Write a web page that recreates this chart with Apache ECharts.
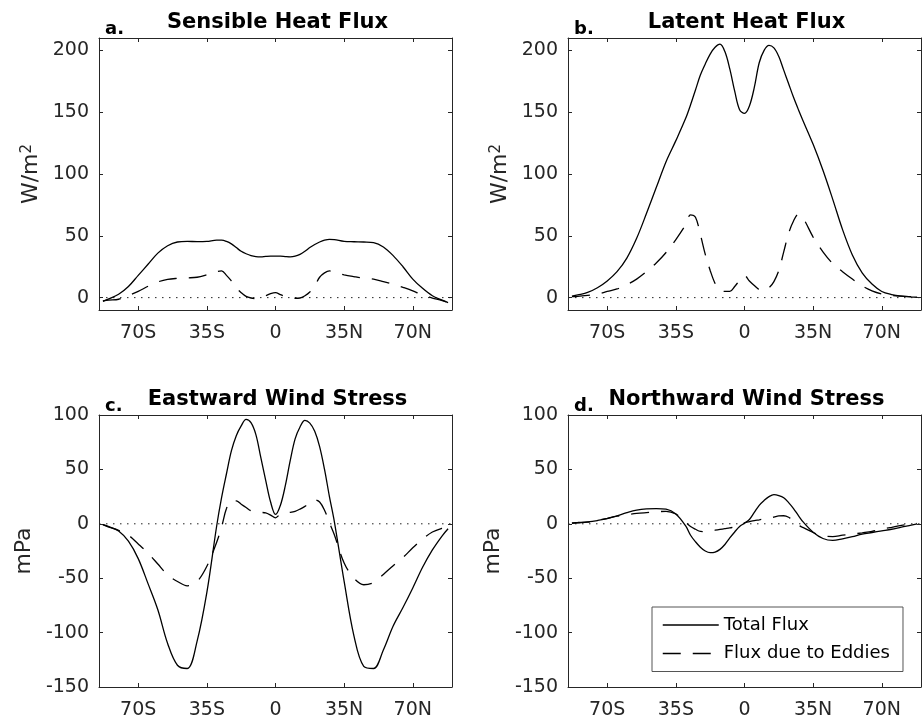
<!DOCTYPE html>
<html><head><meta charset="utf-8">
<script src="https://cdn.jsdelivr.net/npm/echarts@6/dist/echarts.min.js"></script>
<style>html,body{margin:0;padding:0;background:#fff}#c{width:922px;height:723px}</style>
</head><body><div id="c"></div>
<script>
// latitude grid (degrees, negative = south)
const lat = [-88,-85,-80,-75,-70,-65,-60,-55,-50,-45,-40,-35,-30,-27.5,-25,-22.5,-20,-17.5,-15,-12.5,-10,-7.5,-5,-2.5,0,2.5,5,7.5,10,12.5,15,17.5,20,22.5,25,27.5,30,35,40,45,50,55,60,65,70,75,80,85,88];

// a. Sensible heat flux (W/m2)
const sensTotal = [-3,-1,2.7,9,18,27,36,42,45,45.5,45.3,45.5,46.5,46.5,45.5,43.5,40.5,37.5,35.5,34,33.2,33,33.3,33.5,33.5,33.5,33.2,33,33.5,35,37.5,40.5,43,45,46.5,47.2,47,45.5,45.2,45,44.5,41,34,25,15,7.5,1.5,-2,-4];
const sensEddy  = [-2.7,-2,-1.3,1.7,5,9.2,12.7,14.8,15.6,16,16.5,18.5,21,21.6,18,13.5,8,4,1,-0.3,-0.8,0,1.5,3.2,4,2.5,0.8,0,-0.5,-0.3,1.5,4.5,9.5,16.5,20,21.6,20.5,18.5,17,15.7,15,13,10.8,8.3,5.5,2,-0.3,-2.5,-4];

// b. Latent heat flux (W/m2)
const latTotal = [1.2,2.2,4.2,8,13.5,21,32,48,68,89,110,127,145,156,168,180,189,197,202.5,205,199,185,167,152,149,155,170,190,200,204,202,195,184,173,162,152,142.5,124,103,79.5,55,34.5,20,11,5,2.5,1.2,0.6,0.3];
const latEddy  = [0.8,1,1.8,2.8,5,7,10.5,15,21,28,36.5,47,59,67,65,51,35,22,11.5,6,5,5,9,14,17.8,13.5,9.8,6.5,5.7,8,13,22,37,52,62,67.5,64,49,37,27.5,21,15,9.5,5.5,3,1.8,1.2,0.8,0.6];

// c. Eastward wind stress (mPa)
const eastTotal = [-0.7,-2.5,-6.7,-16,-32,-55,-79,-110,-130,-133,-108,-63,-2,24,46,67,81,90,96,93,82,61,40,20,8.6,17,35,58,78,89,95,92.5,85,71,50,25,2,-53,-103,-131,-133,-116,-94,-77,-59,-40,-24,-11,-4.5];
const eastEddy  = [-0.7,-3,-6,-10.5,-18.5,-27,-37,-47,-53,-57,-53,-39,-17,-3,14,21,21,18,15,12,11,10.5,10,8,5.5,9,10,10.5,11.5,13.5,16,19,22,20,12.5,1,-10,-36,-50,-56,-54,-46.5,-38.5,-31,-22,-14,-7.5,-4,-3];

// d. Northward wind stress (mPa)
const northTotal = [0.9,1.2,1.8,3,4.7,7.4,10.2,12.5,13.7,14,13.5,9,-2,-10.5,-16.5,-21.5,-25,-26.5,-26,-23.5,-19,-13,-7.5,-2.5,0.5,4,10.5,17,21.5,25,26.8,26,24,19.5,14,7.5,1.5,-7.7,-13.5,-15.3,-13.8,-11.8,-9.5,-8,-6.5,-5,-3,-1.2,0];
const northEddy  = [0.3,0.8,1.5,3.2,5,7,8.3,9.5,10.3,11,11.5,9,1.5,-2.5,-5,-7,-7.2,-6.6,-5.9,-5.2,-4.5,-3.8,-2.5,-0.8,0.9,2,3,3.7,4.5,5.3,6.2,7.2,7.4,6,2.5,-1.3,-3.5,-8,-11,-11.7,-10.5,-9.5,-8.3,-7,-5,-3.2,-1.4,-0.5,0.3];

const xTickVals = [-70,-35,0,35,70];
const xTickLabels = ['70S','35S','0','35N','70N'];
const heatTicks = [0,50,100,150,200];
const stressTicks = [-150,-100,-50,0,50,100];
const panelTitles = ['Sensible Heat Flux','Latent Heat Flux','Eastward Wind Stress','Northward Wind Stress'];
const panelLetters = ['a.','b.','c.','d.'];
const seriesNames = ['Total Flux','Flux due to Eddies'];

const FONT = '"DejaVu Sans", sans-serif';
const AX = '#262626';
const panels = [
  {g:{left:99,top:38,width:353,height:272}, ymin:-10, ymax:210, yt:heatTicks, name:'{a|W/m}{b|2}', gap:56, tot:sensTotal, edd:sensEddy},
  {g:{left:568,top:38,width:353,height:272}, ymin:-10, ymax:210, yt:heatTicks, name:'{a|W/m}{b|2}', gap:56, tot:latTotal, edd:latEddy},
  {g:{left:99,top:415,width:353,height:272}, ymin:-150, ymax:100, yt:stressTicks, name:'{a|mPa}', gap:64, tot:eastTotal, edd:eastEddy},
  {g:{left:568,top:415,width:353,height:272}, ymin:-150, ymax:100, yt:stressTicks, name:'{a|mPa}', gap:64, tot:northTotal, edd:northEddy}
];

const grid=[], xAxis=[], yAxis=[], series=[], graphic=[];
panels.forEach((p,i)=>{
  grid.push(Object.assign({containLabel:false}, p.g));
  const base = {type:'value', gridIndex:i, min:-90, max:90,
    axisLine:{show:true,onZero:false,lineStyle:{color:AX,width:1}},
    axisTick:{show:true,inside:true,length:4,customValues:xTickVals,lineStyle:{color:AX}},
    splitLine:{show:false}};
  xAxis.push(Object.assign({}, base, {position:'bottom',
    axisLabel:{show:true,margin:14,customValues:xTickVals,color:AX,fontFamily:FONT,fontSize:19,
      formatter:(v)=>xTickLabels[xTickVals.indexOf(v)]}}));
  xAxis.push(Object.assign({}, base, {position:'top', axisLabel:{show:false}}));
  const ybase = {type:'value', gridIndex:i, min:p.ymin, max:p.ymax,
    axisLine:{show:true,onZero:false,lineStyle:{color:AX,width:1}},
    axisTick:{show:true,inside:true,length:4,customValues:p.yt,lineStyle:{color:AX}},
    splitLine:{show:false}};
  yAxis.push(Object.assign({}, ybase, {position:'left',
    axisLabel:{show:true,margin:10,customValues:p.yt,color:AX,fontFamily:FONT,fontSize:19},
    name:p.name, nameLocation:'middle', nameGap:p.gap,
    nameTextStyle:{color:AX, rich:{a:{fontSize:22,fontFamily:FONT,color:AX}, b:{fontSize:15,fontFamily:FONT,color:AX,verticalAlign:'top',padding:[0,0,8,0]}}}}));
  yAxis.push(Object.assign({}, ybase, {position:'right', axisLabel:{show:false}}));
  const xi = i*2, yi = i*2;
  series.push({type:'line', name:'zero', xAxisIndex:xi, yAxisIndex:yi, data:[[-90,0],[90,0]], symbol:'none', silent:true,
    lineStyle:{color:'#222',width:1,type:[1.5,5.5]}, z:1});
  series.push({type:'line', name:seriesNames[0], xAxisIndex:xi, yAxisIndex:yi, data:lat.map((x,k)=>[x,p.tot[k]]),
    symbol:'none', smooth:0.35, lineStyle:{color:'#000',width:1.3,type:'solid'}, itemStyle:{color:'#000'}, z:3});
  series.push({type:'line', name:seriesNames[1], xAxisIndex:xi, yAxisIndex:yi, data:lat.map((x,k)=>[x,p.edd[k]]),
    symbol:'none', smooth:0.35, lineStyle:{color:'#000',width:1.3,type:[18,12]}, itemStyle:{color:'#000'}, z:3});
  const cx = p.g.left + p.g.width/2 + 2;
  const top = p.g.top;
  graphic.push({type:'text', x:cx, y:top-15.5, style:{text:panelTitles[i], font:'bold 21px '+FONT, fill:'#000', align:'center', verticalAlign:'middle'}});
  graphic.push({type:'text', x:p.g.left+6, y:top-9, style:{text:panelLetters[i], font:'bold 18px '+FONT, fill:'#000', align:'left', verticalAlign:'middle'}});
});

const chart = echarts.init(document.getElementById('c'), null, {renderer:'canvas'});
chart.setOption({
  animation:false,
  backgroundColor:'#fff',
  grid, xAxis, yAxis, series, graphic,
  legend:{data:seriesNames, orient:'vertical', left:652, top:607, padding:[8,13,8,10],
    itemWidth:56, itemHeight:14, itemGap:8.5, borderColor:'#555', borderWidth:1, backgroundColor:'#fff',
    itemStyle:{opacity:0, borderWidth:0},
    lineStyle:{width:1.5},
    textStyle:{color:'#000',fontFamily:FONT,fontSize:18,lineHeight:20}, selectedMode:false}
});
</script></body></html>
